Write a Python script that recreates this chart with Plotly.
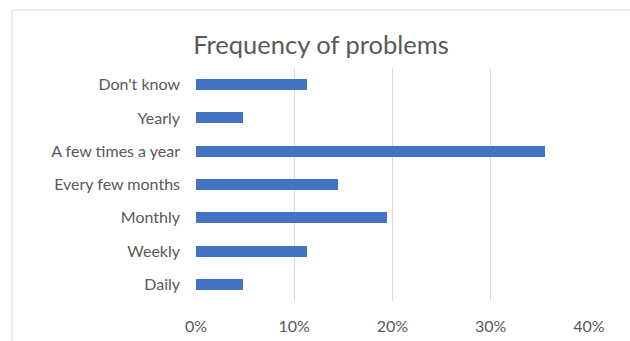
import plotly.graph_objects as go

# Survey responses: how often problems occur (share of respondents)
categories = ["Daily", "Weekly", "Monthly", "Every few months",
              "A few times a year", "Yearly", "Don't know"]
shares = [0.048, 0.113, 0.194, 0.145, 0.355, 0.048, 0.113]
x_ticks = [0, 0.1, 0.2, 0.3, 0.4]

W, H = 630, 341
ml, mr, mt, mb = 196, 41, 68, 40
pw, ph = W - ml - mr, H - mt - mb

def px_x(x):
    return (x - ml) / pw

def px_y(y):
    return (H - mb - y) / ph

fig = go.Figure(go.Bar(
    x=shares,
    y=categories,
    orientation="h",
    width=0.33,
    marker=dict(color="#4472C4", line=dict(width=0)),
    hoverinfo="skip",
))

fig.update_layout(
    width=W, height=H,
    margin=dict(l=ml, r=mr, t=mt, b=mb, pad=0),
    paper_bgcolor="white",
    plot_bgcolor="white",
    font=dict(family="Lato, Carlito, sans-serif", size=16, color="#595959"),
    title=dict(
        text="Frequency of problems",
        font=dict(family="Lato, Carlito, sans-serif", size=25.5, color="#595959"),
        x=321 / W, xref="container", xanchor="center",
        y=1 - 45 / H, yref="container", yanchor="middle",
        automargin=False,
    ),
    showlegend=False,
    bargap=0,
    shapes=[dict(
        type="rect", xref="paper", yref="paper",
        x0=px_x(12), x1=px_x(W + 20), y0=px_y(H + 20), y1=px_y(10),
        line=dict(color="#d9d9d9", width=1), fillcolor="rgba(0,0,0,0)",
        layer="below",
    )],
)

fig.update_xaxes(
    range=[0, 0.4],
    tickvals=x_ticks,
    tickformat=".0%",
    showgrid=True, gridcolor="#d9d9d9", gridwidth=1,
    zeroline=False, showline=False,
    ticks="", ticklabelstandoff=14,
    automargin=False,
    fixedrange=True,
)
fig.update_yaxes(
    range=[-0.5, len(categories) - 0.5],
    categoryorder="array", categoryarray=categories,
    showgrid=False, zeroline=False, showline=False,
    ticks="", ticklabelstandoff=15,
    automargin=False,
    fixedrange=True,
)

fig.write_html("out.html")
